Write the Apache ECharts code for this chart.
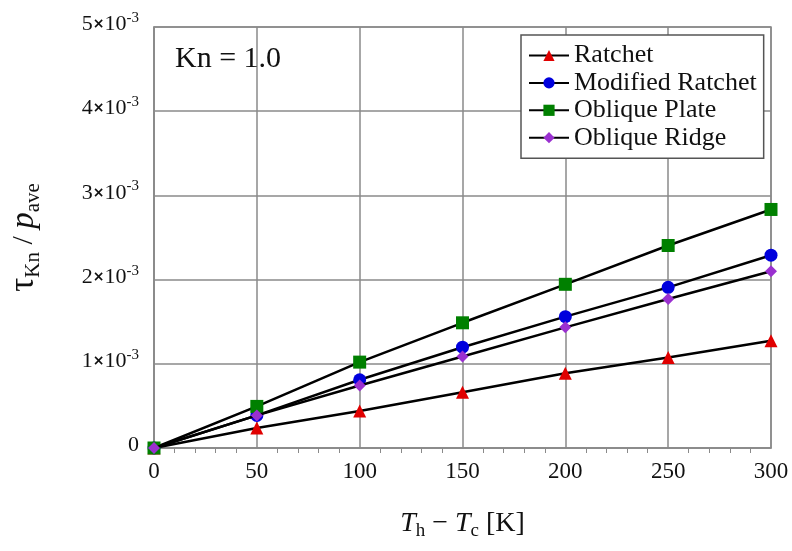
<!DOCTYPE html>
<html>
<head>
<meta charset="utf-8">
<script src="https://cdn.jsdelivr.net/npm/echarts@6/dist/echarts.min.js"></script>
<style>
html,body{margin:0;padding:0;background:#fff;}
#chart{width:792px;height:551px;}
</style>
</head>
<body>
<div id="chart"></div>
<script>
// ---- data ----
const xValues = [0, 50, 100, 150, 200, 250, 300];
const seriesNames = ['Ratchet', 'Modified Ratchet', 'Oblique Plate', 'Oblique Ridge'];
const ratchet = [0, 0.237e-3, 0.440e-3, 0.663e-3, 0.888e-3, 1.075e-3, 1.274e-3];
const modifiedRatchet = [0, 0.387e-3, 0.810e-3, 1.197e-3, 1.560e-3, 1.908e-3, 2.290e-3];
const obliquePlate = [0, 0.494e-3, 1.020e-3, 1.487e-3, 1.944e-3, 2.405e-3, 2.833e-3];
const obliqueRidge = [0, 0.387e-3, 0.743e-3, 1.087e-3, 1.433e-3, 1.770e-3, 2.100e-3];
const yTickMantissas = ['0', '1', '2', '3', '4', '5'];
const xTickLabels = ['0', '50', '100', '150', '200', '250', '300'];

const FONT = 'Liberation Serif';
const chart = echarts.init(document.getElementById('chart'), null, {renderer: 'canvas'});

function pairs(ys) { return xValues.map((x, i) => [x, ys[i]]); }

const markers = [
  {symbol: 'triangle', size: 13, color: '#e00000'},
  {symbol: 'circle', size: 13, color: '#0000dd'},
  {symbol: 'rect', size: 13, color: '#008000'},
  {symbol: 'diamond', size: 12, color: '#9a30d0'}
];
const allData = [ratchet, modifiedRatchet, obliquePlate, obliqueRidge];

const series = allData.map((d, i) => ({
  name: seriesNames[i],
  type: 'line',
  data: pairs(d),
  symbol: markers[i].symbol,
  symbolSize: markers[i].size,
  showAllSymbol: true,
  lineStyle: {color: '#000', width: 2.5},
  itemStyle: {color: markers[i].color, borderWidth: 0},
  emphasis: {disabled: true},
  animation: false,
  z: 3 + i
}));

const option = {
  animation: false,
  backgroundColor: '#fff',
  grid: {
    left: 154, right: 21, top: 27, bottom: 103,
    containLabel: false,
    outerBoundsMode: 'none',
    show: true, borderColor: '#8a8a8a', borderWidth: 1.5, backgroundColor: 'transparent'
  },
  legend: {
    data: seriesNames,
    orient: 'vertical',
    left: 521, top: 35,
    backgroundColor: '#fff',
    borderColor: '#555',
    borderWidth: 1.5,
    padding: [7, 7, 7, 7],
    itemGap: 0.4,
    itemWidth: 40,
    itemHeight: 14,
    textStyle: {fontFamily: FONT, fontSize: 26, lineHeight: 27, color: '#111'}
  },
  xAxis: {
    type: 'value',
    min: 0, max: 300, interval: 50,
    axisLine: {show: true, lineStyle: {color: '#8a8a8a', width: 1.5}},
    axisTick: {show: false},
    minorTick: {show: true, splitNumber: 5, length: 5, inside: true, lineStyle: {color: '#8a8a8a', width: 1}},
    splitLine: {show: true, lineStyle: {color: '#8a8a8a', width: 1.5}},
    axisLabel: {
      fontFamily: FONT, fontSize: 23, color: '#111', margin: 12,
      formatter: v => xTickLabels[xValues.indexOf(v)] ?? String(v)
    },
    name: '{it|T}{sub|h}{n| − }{it|T}{sub|c}{n| [K]}',
    nameLocation: 'middle',
    nameGap: 59,
    nameTextStyle: {
      rich: {
        it: {fontFamily: FONT, fontSize: 28, fontStyle: 'italic', color: '#111', lineHeight: 34, verticalAlign: 'middle'},
        n: {fontFamily: FONT, fontSize: 28, color: '#111', lineHeight: 34, verticalAlign: 'middle'},
        sub: {fontFamily: FONT, fontSize: 19, color: '#111', lineHeight: 16, verticalAlign: 'bottom'}
      }
    }
  },
  yAxis: {
    type: 'value',
    min: 0, max: 0.005, interval: 0.001,
    axisLine: {show: true, lineStyle: {color: '#8a8a8a', width: 1.5}},
    axisTick: {show: false},
    splitLine: {show: true, lineStyle: {color: '#8a8a8a', width: 1.5}},
    axisLabel: {
      margin: 15,
      padding: [0, 0, 5, 0],
      formatter: v => {
        const k = Math.round(v * 1000);
        const m = yTickMantissas[k];
        if (k === 0) return '{b|' + m + '}';
        return '{b|' + m + '}{x|×}{b|10}{s|-3}';
      },
      rich: {
        b: {fontFamily: FONT, fontSize: 22, color: '#111', lineHeight: 28, verticalAlign: 'middle'},
        x: {fontFamily: 'DejaVu Sans', fontSize: 14, fontWeight: 'bold', color: '#111', lineHeight: 28, verticalAlign: 'middle'},
        s: {fontFamily: FONT, fontSize: 15, color: '#111', lineHeight: 14, verticalAlign: 'top'}
      }
    },
    name: '{t|τ}{sub|Kn}{n| / }{it|p}{sub|ave}',
    nameLocation: 'middle',
    nameRotate: 90,
    nameGap: 110,
    nameTextStyle: {
      rich: {
        t: {fontFamily: FONT, fontSize: 35, color: '#111', lineHeight: 40, verticalAlign: 'middle'},
        it: {fontFamily: FONT, fontSize: 33, fontStyle: 'italic', color: '#111', lineHeight: 40, verticalAlign: 'middle'},
        n: {fontFamily: FONT, fontSize: 30, color: '#111', lineHeight: 40, verticalAlign: 'middle'},
        sub: {fontFamily: FONT, fontSize: 21, color: '#111', lineHeight: 18, verticalAlign: 'bottom'}
      }
    }
  },
  graphic: [{
    type: 'text',
    left: 175, top: 44,
    style: {text: 'Kn = 1.0', fontFamily: FONT, fontSize: 30, fill: '#111'},
    z: 10
  }],
  series: series
};
chart.setOption(option);
</script>
</body>
</html>
